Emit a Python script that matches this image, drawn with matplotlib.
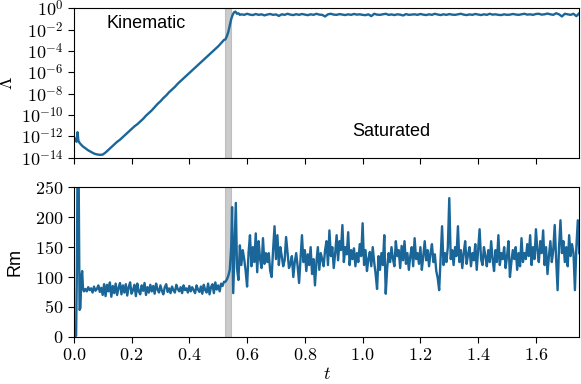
#Import modules
import numpy as np
import matplotlib
matplotlib.use("Agg")
import matplotlib.pyplot as plt
from matplotlib.ticker import FuncFormatter, FixedLocator

plt.rcParams['mathtext.fontset'] = 'cm'
plt.rcParams['font.family'] = ['Liberation Sans', 'DejaVu Sans']

#Lambda (log10) during kinematic stage
tLamEarly = [0.0, 0.005, 0.01, 0.013, 0.016, 0.02]
lamEarly = [-12.0, -12.3, -12.5, -11.6, -12.4, -12.6]
lamKin = [-12.9, -13.1, -13.3, -13.45, -13.6, -13.68, -13.72, -13.7, -13.5, -13.25,
          -13.0, -12.75, -12.5, -12.3, -12.05, -11.8, -11.55, -11.3, -11.05, -10.85,
          -10.6, -10.35, -10.05, -9.8, -9.55, -9.25, -8.95, -8.7, -8.4, -8.15,
          -7.85, -7.6, -7.35, -7.05, -6.8, -6.55, -6.3, -6.05, -5.8, -5.55,
          -5.3, -5.05, -4.8, -4.55, -4.3, -4.05, -3.8, -3.55, -3.25, -2.95]
tLamTrans = [0.525, 0.53, 0.535, 0.54, 0.545, 0.55, 0.555, 0.56, 0.565, 0.57, 0.575]
lamTrans = [-2.9, -2.6, -2.2, -1.6, -1.0, -0.6, -0.35, -0.3, -0.5, -0.45, -0.6]
lamSat = [-0.55, -0.6, -0.5, -0.58, -0.62, -0.52, -0.6, -0.55, -0.65, -0.57,
          -0.52, -0.6, -0.56, -0.7, -0.55, -0.6, -0.5, -0.58, -0.62, -0.54,
          -0.6, -0.52, -0.57, -0.63, -0.55, -0.6, -0.5, -0.58, -0.6, -0.75,
          -0.55, -0.5, -0.58, -0.6, -0.53, -0.57, -0.62, -0.55, -0.6, -0.52,
          -0.58, -0.55, -0.6, -0.63, -0.55, -0.72, -0.5, -0.58, -0.6, -0.55,
          -0.5, -0.6, -0.56, -0.62, -0.55, -0.58, -0.66, -0.53, -0.6, -0.57,
          -0.55, -0.6, -0.52, -0.58, -0.62, -0.55, -0.6, -0.5, -0.57, -0.62,
          -0.55, -0.6, -0.53, -0.58, -0.6, -0.55, -0.5, -0.58, -0.62, -0.56,
          -0.6, -0.52, -0.57, -0.62, -0.55, -0.6, -0.5, -0.58, -0.55, -0.6,
          -0.62, -0.55, -0.6, -0.58, -0.52, -0.57, -0.6, -0.55, -0.5, -0.58,
          -0.55, -0.6, -0.52, -0.5, -0.58, -0.55, -0.48, -0.55, -0.6, -0.45,
          -0.55, -0.75, -0.5, -0.55, -0.6, -0.5, -0.72, -0.45]

#Rm
tRmEarly = [0.0, 0.005, 0.008, 0.011, 0.014, 0.017, 0.020, 0.023, 0.026, 0.029, 0.032, 0.035]
rmEarly = [0, 0, 2, 120, 400, 260, 45, 48, 100, 110, 80, 76]
rmKin = [80, 76, 83, 78, 81, 74, 84, 77, 80, 86, 75, 82, 70, 88, 68, 87, 76, 91, 67, 85,
         73, 89, 70, 82, 90, 71, 86, 74, 88, 69, 83, 91, 72, 78, 87, 68, 89, 76, 71, 86,
         77, 90, 70, 83, 74, 87, 76, 85, 72, 89, 79, 74, 86, 77, 71, 83, 88, 75, 81, 73,
         84, 78, 74, 87, 80, 76, 83, 73, 86, 78, 81, 74, 85, 76, 83, 78, 73, 86, 79, 75,
         84, 72, 87, 78, 74, 89, 71, 83, 88, 73, 91, 79, 86, 76, 89, 85, 92]
tRmTrans = [0.525, 0.53, 0.535, 0.54, 0.545, 0.548, 0.552, 0.556, 0.561, 0.565]
rmTrans = [92, 96, 102, 112, 150, 217, 73, 140, 224, 115]
rmSat = [95, 153, 120, 145, 130, 110, 84, 140, 170, 118, 150, 125, 173, 108, 160, 130, 115, 165, 122, 140,
         125, 140, 110, 100, 145, 185, 130, 170, 120, 150, 135, 118, 128, 167, 140, 115, 122, 135, 100, 125,
         140, 118, 90, 130, 170, 125, 145, 110, 138, 120, 150, 105, 130, 86, 125, 150, 112, 140, 130, 118,
         145, 160, 120, 178, 135, 150, 115, 140, 170, 128, 160, 145, 187, 125, 150, 138, 175, 120, 145, 130,
         148, 118, 140, 125, 155, 135, 190, 120, 145, 110, 130, 142, 118, 150, 125, 105, 80, 135, 112, 140,
         120, 170, 72, 115, 140, 125, 150, 130, 118, 160, 135, 145, 115, 152, 128, 160, 122, 140, 112, 135,
         150, 118, 165, 130, 140, 122, 150, 112, 135, 160, 128, 145, 118, 140, 155, 125, 138, 110, 98, 78,
         130, 185, 120, 140, 125, 150, 232, 130, 145, 120, 150, 135, 185, 125, 145, 115, 140, 160, 122, 138,
         150, 118, 140, 128, 155, 112, 145, 180, 130, 120, 150, 135, 118, 145, 125, 160, 130, 110, 145, 125,
         170, 120, 140, 130, 150, 115, 135, 160, 100, 125, 145, 130, 150, 112, 140, 118, 165, 125, 140, 130,
         155, 135, 170, 120, 150, 130, 180, 145, 125, 160, 140, 178, 120, 150, 105, 135, 160, 125, 145, 187,
         130, 78, 150, 195, 140, 160, 125, 150, 118, 170, 135, 155, 140, 78, 150, 195, 140]

#Shaded transition band
bandLo, bandHi = 0.524, 0.544

#Assemble time grids
tLam = np.concatenate([tLamEarly, np.round(0.03 + 0.01*np.arange(len(lamKin)), 3),
                       tLamTrans, np.round(0.58 + 0.01*np.arange(len(lamSat)), 3)])
lam = 10.0**np.concatenate([lamEarly, lamKin, lamTrans, lamSat])
tRm = np.concatenate([tRmEarly, np.round(0.04 + 0.005*np.arange(len(rmKin)), 4),
                      tRmTrans, np.round(0.57 + 0.005*np.arange(len(rmSat)), 4)])
rm = np.concatenate([rmEarly, rmKin, rmTrans, rmSat])

lineCol = '#1b6699'

fig = plt.figure(figsize=(5.81, 3.84), dpi=100)
ax1 = fig.add_axes([0.127, 0.589, 0.870, 0.389])
ax2 = fig.add_axes([0.127, 0.123, 0.870, 0.389])

for ax in (ax1, ax2):
    ax.axvspan(bandLo, bandHi, color='0.6', alpha=0.5, lw=0.8)
    ax.set_xlim(0, 1.75)
    ax.tick_params(direction='out', length=4, width=0.8, labelsize=13)
    ax.xaxis.set_major_locator(FixedLocator([0, 0.2, 0.4, 0.6, 0.8, 1.0, 1.2, 1.4, 1.6]))

#Top panel
ax1.plot(tLam, lam, color=lineCol, lw=1.7)
ax1.set_yscale('log')
ax1.set_ylim(1e-14, 1e0)
ax1.yaxis.set_major_locator(FixedLocator([10.0**e for e in range(-14, 1, 2)]))
ax1.yaxis.set_minor_locator(FixedLocator([]))
ax1.yaxis.set_major_formatter(FuncFormatter(lambda v, p: r'$10^{%d}$' % round(np.log10(v))))
ax1.set_xticklabels([])
ax1.set_ylabel(r'$\Lambda$', fontsize=13)
ax1.yaxis.set_label_coords(-0.115, 0.5)
ax1.text(0.25, 10**-1.45, 'Kinematic', fontsize=13, ha='center', va='center')
ax1.text(1.10, 10**-11.5, 'Saturated', fontsize=13, ha='center', va='center')

#Bottom panel
ax2.plot(tRm, rm, color=lineCol, lw=1.7)
ax2.set_ylim(0, 250)
ax2.yaxis.set_major_locator(FixedLocator([0, 50, 100, 150, 200, 250]))
ax2.yaxis.set_major_formatter(FuncFormatter(lambda v, p: r'$%d$' % v))
ax2.xaxis.set_major_formatter(FuncFormatter(lambda v, p: r'$%.1f$' % v))
ax2.set_ylabel('Rm', fontsize=13)
ax2.yaxis.set_label_coords(-0.1, 0.5)
ax2.set_xlabel(r'$t$', fontsize=13, labelpad=1)

fig.savefig('out.png', dpi=100)
